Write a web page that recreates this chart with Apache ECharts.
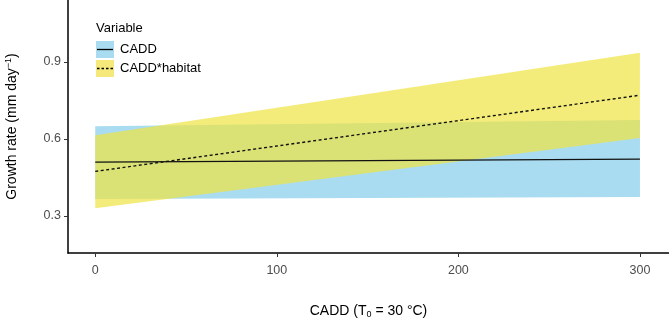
<!DOCTYPE html>
<html>
<head>
<meta charset="utf-8">
<script src="https://cdn.jsdelivr.net/npm/echarts@6/dist/echarts.min.js"></script>
<style>
  html, body { margin: 0; padding: 0; background: #fff; }
  #chart { width: 669px; height: 320px; }
</style>
</head>
<body>
<div id="chart"></div>
<script>
// x 值 (CADD)
const cadd = [0, 300];
// CADD 模型：拟合线与置信带
const caddFit = [0.509, 0.521];
const caddLow = [0.365, 0.373];
const caddHigh = [0.649, 0.673];
// CADD*habitat 模型
const habFit = [0.473, 0.770];
const habLow = [0.329, 0.603];
const habHigh = [0.614, 0.935];
// 刻度
const xTicks = [0, 100, 200, 300];
const yTicks = [0.3, 0.6, 0.9];

const font = "Liberation Sans, Arial, Helvetica, sans-serif";
const pairs = (ys) => cadd.map((x, i) => [x, ys[i]]);
const bandRows = (lo, hi) => cadd.map((x, i) => [x, lo[i], hi[i]]);

// 置信带：用坐标系把 [x, lo, hi] 转成多边形
function bandSeries(lo, hi, fill, opacity) {
	return {
		type: "custom",
		silent: true,
		data: bandRows(lo, hi),
		encode: { x: 0, y: [1, 2] },
		renderItem: function (params, api) {
			if (params.dataIndex !== 0) return;
			const top = cadd.map((x, i) => api.coord([x, hi[i]]));
			const bottom = cadd.map((x, i) => api.coord([x, lo[i]])).reverse();
			return {
				type: "polygon",
				shape: { points: top.concat(bottom) },
				style: { fill: fill, opacity: opacity },
			};
		},
	};
}

let myChart = echarts.init(document.getElementById("chart"), null, { renderer: "canvas" });

const option = {
	animation: false,
	textStyle: { fontFamily: font },
	grid: { left: 68, right: 0, top: 0, bottom: 67, outerBoundsMode: "none", containLabel: false },
	xAxis: {
		type: "value",
		min: -15,
		max: 316,
		splitLine: { show: false },
		axisLine: { onZero: false, lineStyle: { color: "#000", width: 1.5 } },
		axisTick: { length: 4, lineStyle: { color: "#333" }, customValues: xTicks },
		axisLabel: { color: "#4d4d4d", fontSize: 12.5, margin: 11, customValues: xTicks },
		name: "CADD (T{sub|0} = 30 °C)",
		nameLocation: "middle",
		nameGap: 51,
		nameTextStyle: {
			color: "#000",
			fontSize: 14,
			fontFamily: font,
			rich: { sub: { fontSize: 9, verticalAlign: "bottom", padding: [6, 0, 0, 0], fontFamily: font } },
		},
	},
	yAxis: {
		type: "value",
		min: 0.155,
		max: 1.141,
		splitLine: { show: false },
		axisLine: { show: true, onZero: false, lineStyle: { color: "#000", width: 1.5 } },
		axisTick: { show: true, length: 4, lineStyle: { color: "#333" }, customValues: yTicks },
		axisLabel: { color: "#4d4d4d", fontSize: 12.5, margin: 7, customValues: yTicks, formatter: (v) => v.toFixed(1) },
		name: "Growth rate (mm day{sup|−1})",
		nameLocation: "middle",
		nameRotate: 90,
		nameGap: 47,
		nameTextStyle: {
			color: "#000",
			fontSize: 14,
			fontFamily: font,
			rich: { sup: { fontSize: 9, verticalAlign: "top", padding: [0, 0, 8, 0], fontFamily: font } },
		},
	},
	series: [
		bandSeries(caddLow, caddHigh, "#a9dcf0", 1),
		bandSeries(habLow, habHigh, "rgb(240,228,66)", 0.7),
		// 拟合线
		{
			type: "line", data: pairs(caddFit), symbol: "none",
			lineStyle: { color: "#111", width: 1.3 },
		},
		{
			type: "line", data: pairs(habFit), symbol: "none",
			lineStyle: { color: "#111", width: 1.4, type: [3, 2.5] },
		},
	],
	// 图例
	graphic: [
		{ type: "text", z: 100, left: 96, top: 22, style: { text: "Variable", fontSize: 13, fill: "#000", fontFamily: font } },
		{ type: "rect", z: 100, shape: { x: 96, y: 41, width: 18, height: 17 }, style: { fill: "#a9dcf0" } },
		{ type: "line", z: 101, shape: { x1: 97, y1: 49.5, x2: 113, y2: 49.5 }, style: { stroke: "#000", lineWidth: 1.3 } },
		{ type: "text", z: 100, left: 120, top: 43, style: { text: "CADD", fontSize: 13, fill: "#000", fontFamily: font } },
		{ type: "rect", z: 100, shape: { x: 96, y: 60, width: 18, height: 17 }, style: { fill: "#f4e97a" } },
		{ type: "line", z: 101, shape: { x1: 97, y1: 68.5, x2: 113, y2: 68.5 }, style: { stroke: "#000", lineWidth: 1.3, lineDash: [2.5, 2] } },
		{ type: "text", z: 100, left: 120, top: 62, style: { text: "CADD*habitat", fontSize: 13, fill: "#000", fontFamily: font } },
	],
};

myChart.setOption(option);
</script>
</body>
</html>
